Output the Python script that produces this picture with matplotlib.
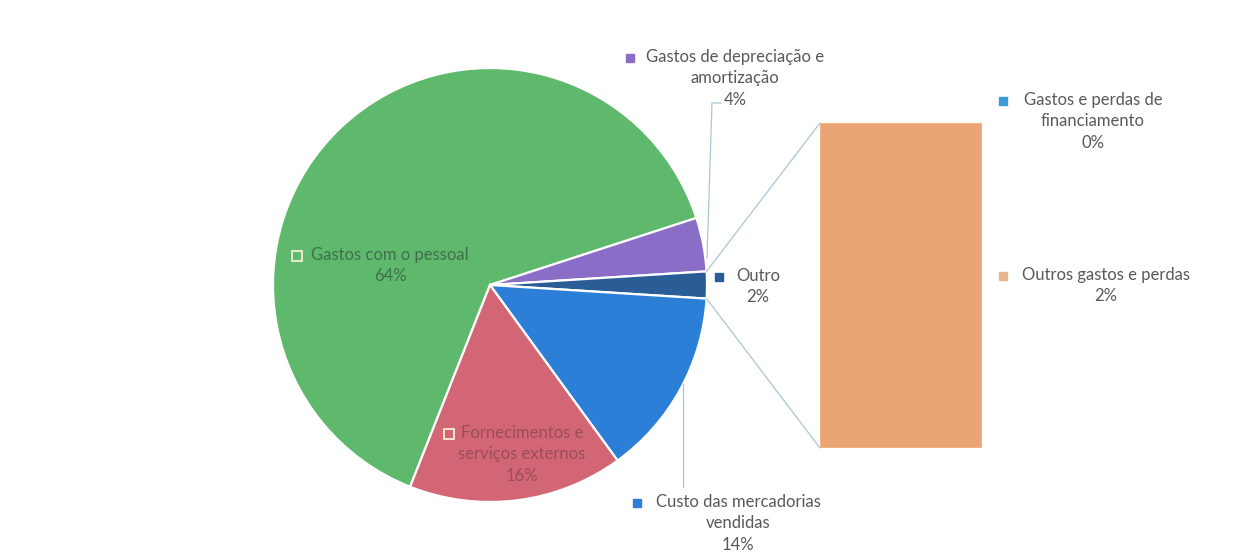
import numpy as np
import matplotlib
matplotlib.use("Agg")
import matplotlib.pyplot as plt
from matplotlib.patches import ConnectionPatch

plt.rcParams['font.family'] = ['Lato', 'DejaVu Sans']

# pie slices, listed clockwise starting at the top of "Gastos com o pessoal"
main_labels = ["Gastos com o pessoal", "Gastos de depreciação e amortização", "Outro",
               "Custo das mercadorias vendidas", "Fornecimentos e serviços externos"]
main_values = [64, 4, 2, 14, 16]
main_colors = ["#5fb96c", "#8a6dc6", "#2a5d96", "#2b7fd6", "#d36674"]

# the "Outro" slice broken out into the bar
bar_labels = ["Outros gastos e perdas", "Gastos e perdas de financiamento"]
bar_values = [2, 0]
bar_colors = ["#eba473", "#3b9ad8"]

W, H = 1239, 554
fig = plt.figure(figsize=(W / 100, H / 100), dpi=100)
ax = fig.add_axes([0, 0, 1, 1])
ax.axis("off")

cx, cy, r = 490, 285, 217
# y axis is inverted, so counterclock in data == clockwise on screen
wedges, _ = ax.pie(main_values, colors=main_colors, center=(cx, cy), radius=r,
                   startangle=-248.4, counterclock=True,
                   wedgeprops=dict(edgecolor="white", linewidth=1.6))
ax.set_xlim(0, W)
ax.set_ylim(H, 0)  # pixel coords, y down
ax.set_aspect("equal")

# stacked bar of the "Outro" slice
bx0, by0, bw, bh = 820, 123, 162, 325
bax = fig.add_axes([bx0 / W, 1 - (by0 + bh) / H, bw / W, bh / H])
bottom = 0
for v, c in zip(bar_values, bar_colors):
    bax.bar(0, v, width=1, bottom=bottom, color=c, edgecolor="#f2b888", linewidth=1.2)
    bottom += v
bax.set_xlim(-0.5, 0.5)
bax.set_ylim(0, sum(bar_values))
bax.axis("off")

# connector lines from "Outro" wedge to the bar
w = wedges[main_labels.index("Outro")]
for ang, ybar in [(w.theta1, sum(bar_values)), (w.theta2, 0)]:
    px = cx + r * np.cos(np.radians(ang))
    py = cy + r * np.sin(np.radians(ang))
    con = ConnectionPatch(xyA=(px, py), coordsA=ax.transData,
                          xyB=(-0.5, ybar), coordsB=bax.transData,
                          color="#a9c6d6", linewidth=0.9)
    fig.add_artist(con)

txt = "#595959"
fs = 12

def label(x, y, lines, mx, mcolor, color=txt, hollow=False, msize=6):
    ax.text(x, y, "\n".join(lines), ha="center", va="top", fontsize=fs,
            color=color, linespacing=1.42)
    if hollow:
        ax.plot(mx, y + 9, marker="s", ms=msize, mfc="none", mec="#f3f0d0", mew=1.3)
    else:
        ax.plot(mx, y + 9, marker="s", ms=msize, mfc=mcolor, mec=mcolor)

label(735, 49, ["Gastos de depreciação e", "amortização", "4%"], 630, main_colors[1])
label(1093, 92, ["Gastos e perdas de", "financiamento", "0%"], 1003, bar_colors[1])
label(758, 268, ["Outro", "2%"], 719, main_colors[2])
label(1106, 267, ["Outros gastos e perdas", "2%"], 1003, "#e8b68e")
label(390, 247, ["Gastos com o pessoal", "64%"], 297, None, color="#3f6f4c", hollow=True, msize=7)
label(522, 425, ["Fornecimentos e", "serviços externos", "16%"], 449, None, color="#9c4d5a", hollow=True, msize=7)
label(738, 494, ["Custo das mercadorias", "vendidas", "14%"], 637, main_colors[3])

# leader lines
lc = "#a9c6d6"
ax.plot([707, 712, 721], [258, 103, 103], color=lc, linewidth=0.9)
ax.plot([683, 683], [384, 487], color=lc, linewidth=0.9)

fig.savefig("out.png", dpi=100, facecolor="white")
